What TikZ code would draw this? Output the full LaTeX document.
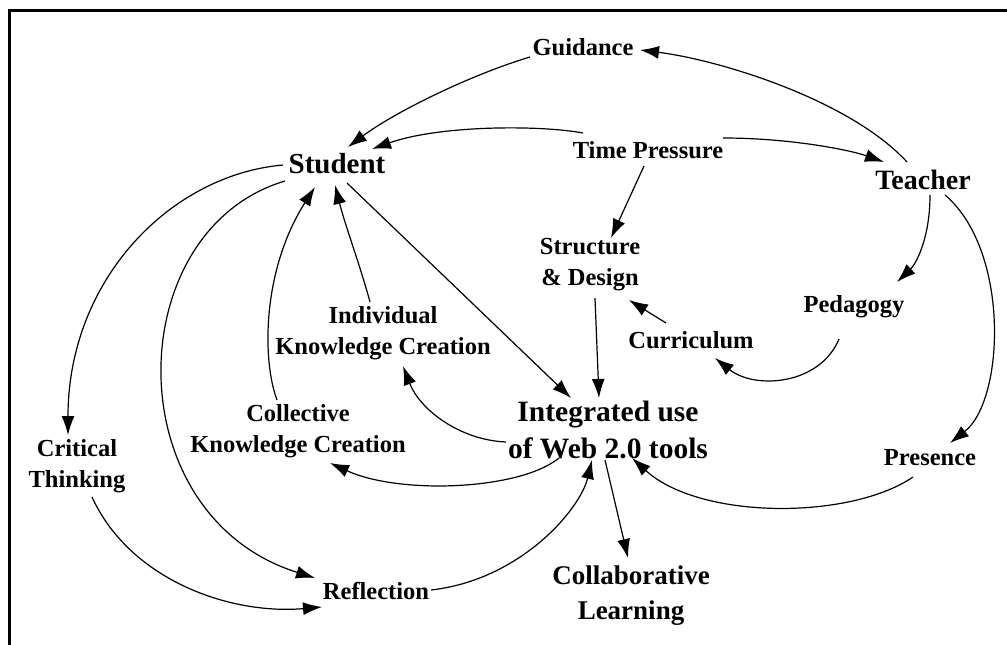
\documentclass[tikz,border=0pt]{standalone}
\usepackage{fontspec}
\setmainfont{Liberation Serif}
\usetikzlibrary{arrows.meta}
\begin{document}
\begin{tikzpicture}[x=1pt,y=-1pt,
  lab/.style={font=\bfseries\fontsize{24.5}{31}\selectfont, inner sep=0pt, align=center},
  big/.style={font=\bfseries\fontsize{29.5}{37}\selectfont, inner sep=0pt, align=center},
  conn/.style={line width=1.2pt, -{Latex[length=19pt,width=13pt]}},
  frame/.style={line width=2.5pt}
]
\useasboundingbox (0,0) rectangle (1007,645);
\draw[frame] (9.5,645) -- (9.5,10.5) -- (1007,10.5);

\node[lab] (gui) at (583,47) {Guidance};
\node[lab, font=\bfseries\fontsize{29}{36}\selectfont] (stu) at (337,164) {Student};
\node[lab] (tp) at (648,150) {Time Pressure};
\node[lab, font=\bfseries\fontsize{28}{34}\selectfont] (tea) at (923,180) {Teacher};
\node[lab] (sd) at (590,265) {Structure\\\& Design};
\node[lab] (ped) at (854,307) {Pedagogy};
\node[lab] (cur) at (691,340) {Curriculum};
\node[lab] (ikc) at (383,333) {Individual\\Knowledge Creation};
\node[big] (int) at (608,430) {Integrated use\\of Web 2.0 tools};
\node[lab] (ckc) at (298,431) {Collective\\Knowledge Creation};
\node[lab] (ct) at (77,466) {Critical\\Thinking};
\node[lab] (ref) at (376,591) {Reflection};
\node[lab, font=\bfseries\fontsize{27}{35}\selectfont] (col) at (631,596) {Collaborative\\Learning};
\node[lab] (pre) at (930,458) {Presence};

\draw[conn] ([shift={(-16,-18)}]tea.center) .. controls (850,100) and (720,60) .. ([shift={(57,3)}]gui.center);
\draw[conn] ([shift={(-53,10)}]gui.center) .. controls (470,75) and (395,112) .. ([shift={(11,-17)}]stu.center);
\draw[conn] ([shift={(-65,-17)}]tp.center) .. controls (540,125) and (440,125) .. ([shift={(35,-15)}]stu.center);
\draw[conn] ([shift={(75,-12)}]tp.center) .. controls (790,138) and (850,150) .. ([shift={(-39,-18)}]tea.center);
\draw[conn] ([shift={(-4,16)}]tp.center) -- ([shift={(21,-27)}]sd.center);
\draw[conn] ([shift={(7,15)}]tea.center) .. controls (930,240) and (915,265) .. ([shift={(43,-25)}]ped.center);
\draw[conn] ([shift={(22,15)}]tea.center) .. controls (1010,250) and (1005,400) .. ([shift={(20,-15)}]pre.center);
\draw[conn] ([shift={(-15,32)}]ped.center) .. controls (820,385) and (755,390) .. ([shift={(24,18)}]cur.center);
\draw[conn] ([shift={(-25,-17)}]cur.center) -- ([shift={(39,35)}]sd.center);
\draw[conn] ([shift={(5,33)}]sd.center) -- ([shift={(-9,-32)}]int.center);
\draw[conn] ([shift={(10,19)}]stu.center) -- ([shift={(-37,-32)}]int.center);
\draw[conn] ([shift={(-13,-31)}]ikc.center) .. controls (360,265) and (345,225) .. ([shift={(-2,21)}]stu.center);
\draw[conn] ([shift={(-21,-31)}]ckc.center) .. controls (262,360) and (262,270) .. ([shift={(-22,23)}]stu.center);
\draw[conn] ([shift={(-102,12)}]int.center) .. controls (460,440) and (420,410) .. ([shift={(20,33)}]ikc.center);
\draw[conn] ([shift={(-49,28)}]int.center) .. controls (520,490) and (400,495) .. ([shift={(32,32)}]ckc.center);
\draw[conn] ([shift={(-54,1)}]stu.center) .. controls (170,175) and (68,280) .. ([shift={(-9,-31)}]ct.center);
\draw[conn] ([shift={(-52,17)}]stu.center) .. controls (120,230) and (115,515) .. ([shift={(-61,-13)}]ref.center);
\draw[conn] ([shift={(15,31)}]ct.center) .. controls (130,580) and (230,615) .. ([shift={(-54,16)}]ref.center);
\draw[conn] ([shift={(55,-1)}]ref.center) .. controls (520,580) and (580,510) .. ([shift={(-16,30)}]int.center);
\draw[conn] ([shift={(-3,30)}]int.center) -- ([shift={(-3,-38)}]col.center);
\draw[conn] ([shift={(-17,19)}]pre.center) .. controls (850,520) and (700,520) .. ([shift={(24,28)}]int.center);
\end{tikzpicture}
\end{document}
